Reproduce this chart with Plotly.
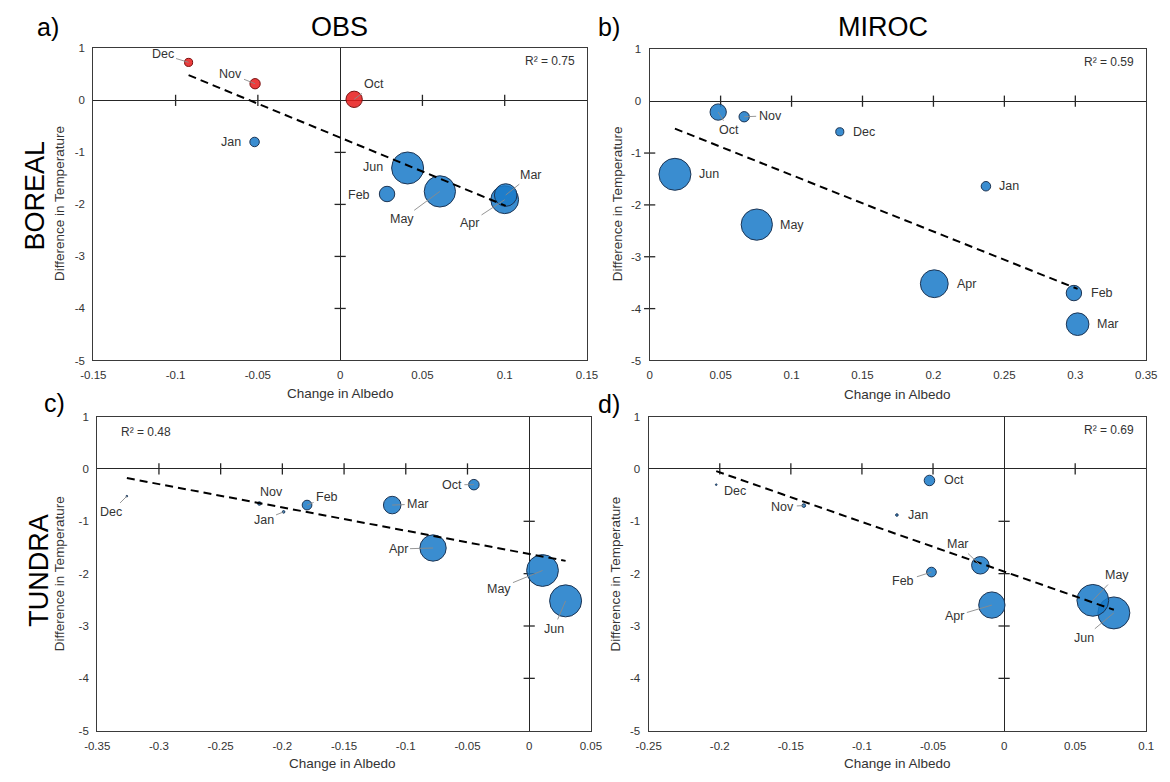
import numpy as np
import plotly.graph_objects as go

W, H = 1170, 782

months = ["Jan", "Feb", "Mar", "Apr", "May", "Jun", "Oct", "Nov", "Dec"]

# Change in albedo (x) and difference in temperature (y), one value per month
obs_boreal_albedo = [-0.052, 0.0285, 0.1006, 0.100, 0.0606, 0.041, 0.0085, -0.0517, -0.0921]
obs_boreal_temp = [-0.80, -1.80, -1.82, -1.91, -1.75, -1.30, 0.02, 0.32, 0.73]

miroc_boreal_albedo = [0.237, 0.299, 0.3016, 0.2006, 0.0755, 0.0178, 0.0483, 0.0666, 0.134]
miroc_boreal_temp = [-1.64, -3.70, -4.30, -3.52, -2.38, -1.41, -0.21, -0.30, -0.59]

obs_tundra_albedo = [-0.199, -0.180, -0.111, -0.0779, 0.0108, 0.0295, -0.0448, -0.2186, -0.326]
obs_tundra_temp = [-0.82, -0.69, -0.69, -1.51, -1.94, -2.52, -0.30, -0.66, -0.52]

miroc_tundra_albedo = [-0.0754, -0.0511, -0.0167, -0.0086, 0.0624, 0.0772, -0.0525, -0.1409, -0.2025]
miroc_tundra_temp = [-0.88, -1.97, -1.84, -2.60, -2.51, -2.75, -0.22, -0.70, -0.30]

# Bubble weights per month (relative units)
boreal_bubble = [22, 58, 125, 189, 239, 250, 65, 26, 16]
tundra_bubble = [1.6, 23, 75, 169, 247, 250, 27, 3.2, 0.5]

r2_labels = ["R\u00b2 = 0.75", "R\u00b2 = 0.59", "R\u00b2 = 0.48", "R\u00b2 = 0.69"]

temp_ticks = [1, 0, -1, -2, -3, -4, -5]
obs_boreal_xticks = [-0.15, -0.1, -0.05, 0, 0.05, 0.1, 0.15]
miroc_boreal_xticks = [0, 0.05, 0.1, 0.15, 0.2, 0.25, 0.3, 0.35]
obs_tundra_xticks = [-0.35, -0.3, -0.25, -0.2, -0.15, -0.1, -0.05, 0, 0.05]
miroc_tundra_xticks = [-0.25, -0.2, -0.15, -0.1, -0.05, 0, 0.05, 0.1]

FONT = "Liberation Sans, Arial, sans-serif"
TXT = "#333333"
AXIS = "#262626"
BLUE_FILL = "rgba(26,122,200,0.86)"
BLUE_EDGE = "#1d3554"
RED_FILL = "rgba(232,28,28,0.86)"
RED_EDGE = "#7a1010"
MAX_D = 32  # diameter of the largest bubble, px

# label placement: month -> (dx px, dy px, leader line)
lab_a = {"Dec": (-26, -8, True), "Nov": (-25, -10, True), "Oct": (20, -15, True),
         "Jan": (-24, 0, False), "Jun": (-35, -1, False), "Feb": (-28, 1, False),
         "May": (-38, 28, True), "Mar": (25, -20, True), "Apr": (-35, 23, True)}
lab_b = {"Oct": (11, 18, True), "Nov": (26, -1, True), "Dec": (24, 0, False),
         "Jan": (23, 0, False), "Jun": (34, 0, False), "May": (35, 0, False),
         "Apr": (32, 0, False), "Feb": (28, 0, False), "Mar": (30, 0, False)}
lab_c = {"Dec": (-16, 16, True), "Nov": (12, -12, False), "Jan": (-20, 8, True),
         "Feb": (20, -8, True), "Mar": (26, -1, True), "Oct": (-22, 0, True),
         "Apr": (-35, 1, True), "May": (-44, 18, True), "Jun": (-12, 28, True)}
lab_d = {"Dec": (19, 6, False), "Nov": (-21, 1, True), "Jan": (21, 0, False),
         "Oct": (25, 0, False), "Feb": (-28, 9, True), "Mar": (-22, -21, True),
         "Apr": (-37, 11, True), "May": (24, -25, True), "Jun": (-30, 25, True)}

# plot-area boxes in pixels: (left, right, top, bottom)
panels = [
    dict(x=obs_boreal_albedo, y=obs_boreal_temp, s=boreal_bubble, xt=obs_boreal_xticks,
         box=(82, 586, 43, 360), labels=lab_a, r2=r2_labels[0], r2side="right"),
    dict(x=miroc_boreal_albedo, y=miroc_boreal_temp, s=boreal_bubble, xt=miroc_boreal_xticks,
         box=(650, 1157, 44, 360), labels=lab_b, r2=r2_labels[1], r2side="right"),
    dict(x=obs_tundra_albedo, y=obs_tundra_temp, s=tundra_bubble, xt=obs_tundra_xticks,
         box=(86, 590, 417, 736), labels=lab_c, r2=r2_labels[2], r2side="left"),
    dict(x=miroc_tundra_albedo, y=miroc_tundra_temp, s=tundra_bubble, xt=miroc_tundra_xticks,
         box=(649, 1157, 417, 736), labels=lab_d, r2=r2_labels[3], r2side="right"),
]

all_sizes = boreal_bubble + tundra_bubble
sizeref = 2.0 * max(all_sizes) / MAX_D ** 2


def fmt(v):
    return "{:g}".format(round(v, 3))


fig = go.Figure()
annotations = []
layout_axes = {}

for i, p in enumerate(panels, start=1):
    sx = "" if i == 1 else str(i)
    xa, ya = "x" + sx, "y" + sx
    left, right, top, bottom = p["box"]
    xt = p["xt"]
    xr = [xt[0], xt[-1]]
    yr = [temp_ticks[-1], temp_ticks[0]]

    layout_axes["xaxis" + sx] = dict(
        domain=[left / W, right / W], anchor=ya, range=xr,
        tickvals=xt, ticktext=[fmt(v) for v in xt],
        showline=True, mirror=True, linecolor="#3a3a3a", linewidth=1.3,
        showgrid=False, zeroline=True, zerolinecolor=AXIS, zerolinewidth=1.3,
        ticks="", tickfont=dict(family=FONT, size=11.5, color=TXT),
        ticklabelstandoff=4, fixedrange=True,
    )
    layout_axes["yaxis" + sx] = dict(
        domain=[1 - bottom / H, 1 - top / H], anchor=xa, range=yr,
        tickvals=temp_ticks, ticktext=[fmt(v) for v in temp_ticks],
        showline=True, mirror=True, linecolor="#3a3a3a", linewidth=1.3,
        showgrid=False, zeroline=True, zerolinecolor=AXIS, zerolinewidth=1.3,
        ticks="", tickfont=dict(family=FONT, size=11.5, color=TXT),
        ticklabelstandoff=5, fixedrange=True,
    )

    # cross ticks along the zero lines
    inner_x = [v for v in xt if v not in (0, xr[0], xr[1])]
    inner_y = [v for v in temp_ticks if v not in (0, yr[0], yr[1])]
    fig.add_trace(go.Scatter(
        x=inner_x, y=[0] * len(inner_x), xaxis=xa, yaxis=ya, mode="markers",
        marker=dict(symbol="line-ns-open", size=8, color=AXIS,
                    line=dict(width=1.3, color=AXIS)),
        hoverinfo="skip", showlegend=False, cliponaxis=False))
    if xr[0] <= 0 <= xr[1]:
        fig.add_trace(go.Scatter(
            x=[0] * len(inner_y), y=inner_y, xaxis=xa, yaxis=ya, mode="markers",
            marker=dict(symbol="line-ew-open", size=8, color=AXIS,
                        line=dict(width=1.3, color=AXIS)),
            hoverinfo="skip", showlegend=False, cliponaxis=False))

    # bubbles: warming months in red, cooling months in blue
    fills = [RED_FILL if v > 0 else BLUE_FILL for v in p["y"]]
    edges = [RED_EDGE if v > 0 else BLUE_EDGE for v in p["y"]]
    order = np.argsort(p["s"])[::-1]
    fig.add_trace(go.Scatter(
        x=[p["x"][k] for k in order], y=[p["y"][k] for k in order],
        xaxis=xa, yaxis=ya, mode="markers",
        text=[months[k] for k in order],
        marker=dict(size=[p["s"][k] for k in order], sizemode="area", sizeref=sizeref,
                    sizemin=0.8, opacity=1,
                    color=[fills[k] for k in order],
                    line=dict(width=1, color=[edges[k] for k in order])),
        hovertemplate="%{text}: %{x}, %{y}<extra></extra>", showlegend=False))

    # least-squares trend line across the data range
    xs = np.array(p["x"], dtype=float)
    ys = np.array(p["y"], dtype=float)
    slope, icpt = np.polyfit(xs, ys, 1)
    tx = np.array([xs.min(), xs.max()])
    fig.add_trace(go.Scatter(
        x=tx, y=slope * tx + icpt, xaxis=xa, yaxis=ya, mode="lines",
        line=dict(color="black", width=2, dash="8px,5px"),
        hoverinfo="skip", showlegend=False))

    # month labels
    for k, m in enumerate(months):
        dx, dy, leader = p["labels"][m]
        base = dict(x=p["x"][k], y=p["y"][k], xref=xa, yref=ya, text=m,
                    font=dict(family=FONT, size=12.5, color=TXT))
        if leader:
            base.update(showarrow=True, ax=dx, ay=dy, arrowhead=0, arrowwidth=0.9,
                        arrowcolor="#8a8a8a", standoff=0, startstandoff=1)
        else:
            base.update(showarrow=False, xshift=dx, yshift=-dy)
        annotations.append(base)

    # R² note
    if p["r2side"] == "right":
        annotations.append(dict(x=1, y=1, xref=xa + " domain", yref=ya + " domain",
                                xanchor="right", yanchor="middle", xshift=-10, yshift=-13,
                                text=p["r2"], showarrow=False,
                                font=dict(family=FONT, size=12, color=TXT)))
    else:
        annotations.append(dict(x=0, y=1, xref=xa + " domain", yref=ya + " domain",
                                xanchor="left", yanchor="middle", xshift=22, yshift=-15,
                                text=p["r2"], showarrow=False,
                                font=dict(family=FONT, size=12, color=TXT)))


def paper_text(px, py, text, size, angle=0, color="black"):
    return dict(x=px / W, y=1 - py / H, xref="paper", yref="paper", text=text,
                showarrow=False, xanchor="center", yanchor="middle", textangle=angle,
                font=dict(family=FONT, size=size, color=color))


annotations += [
    paper_text(36, 21, "a)", 25),
    paper_text(608, 21, "b)", 25),
    paper_text(42, 403, "c)", 25),
    paper_text(608, 404, "d)", 25),
    paper_text(333, 21, "OBS", 27),
    paper_text(888, 21, "MIROC", 27),
    paper_text(23, 193, "BOREAL", 27, -90),
    paper_text(27, 573, "TUNDRA", 27, -90),
    paper_text(48, 201, "Difference in Temperature", 13.5, -90, TXT),
    paper_text(618, 201, "Difference in Temperature", 13.5, -90, TXT),
    paper_text(47, 577, "Difference in Temperature", 13.5, -90, TXT),
    paper_text(615, 577, "Difference in Temperature", 13.5, -90, TXT),
    paper_text(334, 394, "Change in Albedo", 13.5, 0, TXT),
    paper_text(903, 395, "Change in Albedo", 13.5, 0, TXT),
    paper_text(336, 769, "Change in Albedo", 13.5, 0, TXT),
    paper_text(903, 769, "Change in Albedo", 13.5, 0, TXT),
]

fig.update_layout(
    width=W, height=H, margin=dict(l=0, r=0, t=0, b=0),
    paper_bgcolor="white", plot_bgcolor="white",
    font=dict(family=FONT, color=TXT), showlegend=False,
    annotations=annotations, **layout_axes,
)

fig.write_html("out.html", config={"displayModeBar": False})
